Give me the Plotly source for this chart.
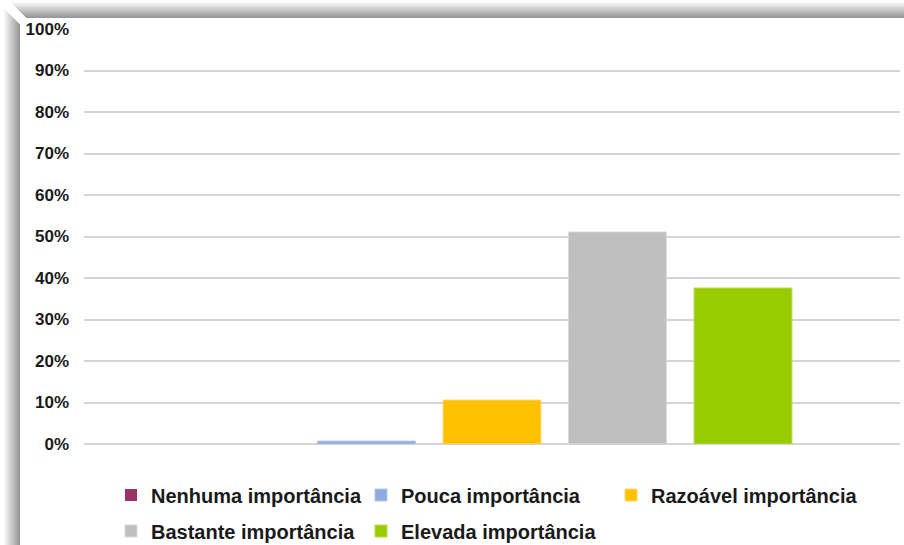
import plotly.graph_objects as go

# Survey result: share of answers per importance level (single category)
category = [""]
levels = [
    "Nenhuma importância",
    "Pouca importância",
    "Razoável importância",
    "Bastante importância",
    "Elevada importância",
]
shares = [0.0, 0.7, 10.6, 51.1, 37.6]
colors = ["#9B3366", "#8FAADC", "#FFC000", "#BFBFBF", "#99CC00"]
edge_colors = ["#b5668e", "#b4c7e7", "#ffd966", "#d9d9d9", "#b8dd4d"]
legend_rows = ["legend", "legend", "legend", "legend2", "legend2"]
y_ticks = [0, 10, 20, 30, 40, 50, 60, 70, 80, 90, 100]
y_tick_labels = [f"{v}%" for v in y_ticks]

W, H = 904, 545
ML, MR, MT, MB = 84, 4, 29, 101
PW, PH = W - ML - MR, H - MT - MB


def px_x(x):
    return (x - ML) / PW


def px_y(y):
    return (H - MB - y) / PH


fig = go.Figure()
for name, val, col, edge, lg in zip(levels, shares, colors, edge_colors, legend_rows):
    fig.add_trace(
        go.Bar(
            x=category,
            y=[val],
            name=name,
            legend=lg,
            marker=dict(color=col, line=dict(color=edge, width=1 if val > 0 else 0)),
        )
    )

# Soft drop shadow along the left and top edges of the chart box
box_x, box_y = 20, 18
shapes = []
depth = 16
for d in range(depth):
    g = int(150 + 105 * (d / depth))
    c = f"rgb({g},{g},{g})"
    shapes.append(dict(
        type="rect", xref="paper", yref="paper", layer="below",
        x0=px_x(box_x - d - 1), x1=px_x(box_x - d),
        y0=px_y(H), y1=px_y(box_y - d + 6),
        fillcolor=c, line=dict(width=0),
    ))
    shapes.append(dict(
        type="rect", xref="paper", yref="paper", layer="below",
        x0=px_x(box_x - d + 6), x1=px_x(W),
        y0=px_y(box_y - d), y1=px_y(box_y - d - 1),
        fillcolor=c, line=dict(width=0),
    ))

legend_font = dict(size=20, family="Liberation Sans, Arial, sans-serif",
                   color="#1a1a1a", weight="bold")
legend_common = dict(
    orientation="h",
    x=px_x(111),
    xanchor="left",
    yanchor="middle",
    entrywidth=205,
    entrywidthmode="pixels",
    font=legend_font,
    bgcolor="rgba(0,0,0,0)",
    traceorder="normal",
)

fig.update_layout(
    width=W,
    height=H,
    margin=dict(l=ML, r=MR, t=MT, b=MB, autoexpand=False),
    paper_bgcolor="white",
    plot_bgcolor="white",
    barmode="group",
    bargap=0.231,
    bargroupgap=0.22,
    font=dict(family="Liberation Sans, Arial, sans-serif", color="#1a1a1a"),
    shapes=shapes,
    showlegend=True,
    legend=dict(legend_common, y=px_y(495)),
    legend2=dict(legend_common, y=px_y(531)),
    xaxis=dict(showticklabels=False, showgrid=False, zeroline=False,
               showline=False, fixedrange=True),
    yaxis=dict(
        range=[0, 100],
        tickvals=y_ticks,
        ticktext=y_tick_labels,
        showgrid=True,
        gridcolor="#d4d4d4",
        gridwidth=1.5,
        zeroline=True,
        zerolinecolor="#d4d4d4",
        zerolinewidth=1.5,
        showline=False,
        ticks="",
        ticklabelstandoff=14,
        tickfont=dict(size=17, family="Liberation Sans, Arial, sans-serif",
                      color="#1a1a1a", weight="bold"),
    ),
)

fig.write_html("out.html")
